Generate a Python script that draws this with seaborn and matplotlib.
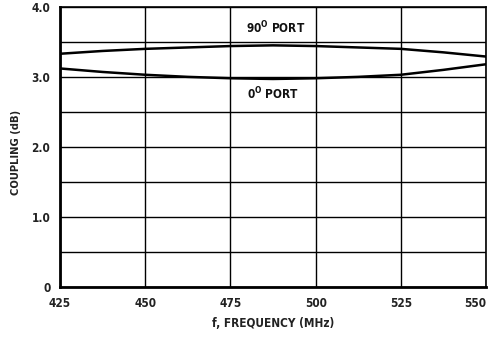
import matplotlib
matplotlib.use("Agg")
import matplotlib.pyplot as plt
import seaborn as sns
import pandas as pd
from matplotlib import font_manager

sns.set_theme(style="white")

# prefer a condensed sans face when one is installed
condensed = [f for f in font_manager.fontManager.ttflist
             if str(f.stretch) in ("condensed", "semi-condensed", "75", "87")
             or "Narrow" in f.name or "Condensed" in f.name]
families = []
for f in condensed:
    if f.name not in families:
        families.append(f.name)
plt.rcParams["font.family"] = families + ["Liberation Sans", "DejaVu Sans"]
if condensed:
    plt.rcParams["font.stretch"] = "condensed"

freq = [425, 437.5, 450, 462.5, 475, 487.5, 500, 512.5, 525, 537.5, 550]
port_90 = [3.33, 3.37, 3.40, 3.42, 3.44, 3.45, 3.44, 3.42, 3.40, 3.35, 3.29]
port_0 = [3.12, 3.07, 3.03, 3.00, 2.98, 2.97, 2.98, 3.00, 3.03, 3.10, 3.18]

x_ticks = [425, 450, 475, 500, 525, 550]
y_ticks = [0, 1.0, 2.0, 3.0, 4.0]
y_tick_labels = ["0", "1.0", "2.0", "3.0", "4.0"]

df = pd.concat([
    pd.DataFrame({"freq": freq, "coupling": port_90, "port": "90"}),
    pd.DataFrame({"freq": freq, "coupling": port_0, "port": "0"}),
])

fig = plt.figure(figsize=(4.88, 3.42), dpi=100)
ax = fig.add_axes([0.123, 0.161, 0.873, 0.819])

sns.lineplot(data=df, x="freq", y="coupling", units="port", estimator=None,
             color="black", linewidth=1.8, ax=ax, legend=False)

ax.set_xlim(425, 550)
ax.set_ylim(0, 4.0)
ax.set_xticks(x_ticks)
ax.set_xticklabels([str(t) for t in x_ticks], fontweight="bold")
ax.set_yticks(y_ticks)
ax.set_yticklabels(y_tick_labels, fontweight="bold")
ax.set_yticks([0.5, 1.5, 2.5, 3.5], minor=True)

ax.grid(True, which="both", color="black", linewidth=1.0)
ax.tick_params(axis="both", which="both", length=0, labelsize=8.5, colors="#222222")
ax.tick_params(axis="x", pad=7)
ax.tick_params(axis="y", pad=7)

# keep the last frequency label inside the figure
plt.setp(ax.get_xticklabels()[-1], ha="right")

for side in ["left", "bottom"]:
    ax.spines[side].set_linewidth(2.0)
for side in ["top", "right"]:
    ax.spines[side].set_linewidth(1.2)
for sp in ax.spines.values():
    sp.set_color("black")

ax.set_xlabel("f, FREQUENCY (MHz)", fontsize=8.5, fontweight="bold", labelpad=5, color="#222222")
ax.set_ylabel("COUPLING (dB)", fontsize=8, fontweight="bold", color="#222222")
ax.yaxis.set_label_coords(-0.092, 0.48)

ax.text(488.4, 3.70, "90$^{\\mathregular{O}}$ PORT", fontsize=8.5, fontweight="bold",
        ha="center", va="center", color="#111111")
ax.text(487.5, 2.76, "0$^{\\mathregular{O}}$ PORT", fontsize=8.5, fontweight="bold",
        ha="center", va="center", color="#111111")

fig.savefig("out.png", dpi=100)
